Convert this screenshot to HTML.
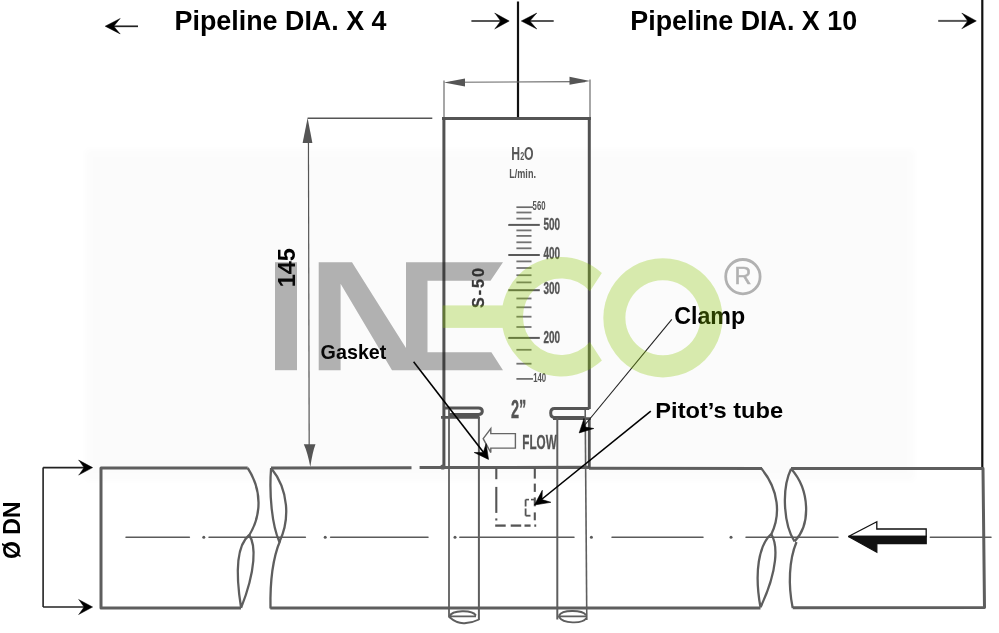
<!DOCTYPE html>
<html><head><meta charset="utf-8"><style>
html,body{margin:0;padding:0;background:#fff;width:999px;height:633px;overflow:hidden}
svg{display:block;will-change:transform}
text{font-family:"Liberation Sans",sans-serif}
</style></head><body>
<svg width="999" height="633" viewBox="0 0 999 633">
<rect width="999" height="633" fill="#fff"/>
<defs><filter id="fb" x="-10%" y="-10%" width="120%" height="120%"><feGaussianBlur stdDeviation="3"/></filter></defs><rect x="85" y="149" width="830" height="332" fill="#000" opacity="0.012" filter="url(#fb)"/>
<g id="draw">
<line x1="112" y1="26.3" x2="138" y2="26.3" stroke="#222" stroke-width="1.7" />
<path d="M105.2,26.2 L120.2,18.5 L119.3,19.4 L113.7,26.2 L119.3,33.0 L120.2,33.9 Z" fill="#000" stroke="#000" stroke-width="0.5" stroke-linejoin="round"/>
<line x1="471.4" y1="21" x2="501" y2="21" stroke="#555" stroke-width="2" />
<path d="M509.2,21 L494.7,13.1 L495.59999999999997,14.0 L500.7,21 L495.59999999999997,28.0 L494.7,28.9 Z" fill="#000" stroke="#000" stroke-width="0.5" stroke-linejoin="round"/>
<line x1="529" y1="21" x2="553.7" y2="21" stroke="#555" stroke-width="2" />
<path d="M521.3,21 L536.8,13.1 L535.9,14.0 L529.8,21 L535.9,28.0 L536.8,28.9 Z" fill="#000" stroke="#000" stroke-width="0.5" stroke-linejoin="round"/>
<line x1="938.2" y1="20.9" x2="968" y2="20.9" stroke="#555" stroke-width="2" />
<path d="M976.3,20.9 L961.8,13.099999999999998 L962.6999999999999,13.999999999999998 L967.8,20.9 L962.6999999999999,27.8 L961.8,28.7 Z" fill="#000" stroke="#000" stroke-width="0.5" stroke-linejoin="round"/>
<line x1="518" y1="1.5" x2="518" y2="118" stroke="#111" stroke-width="2.2" />
<line x1="982.3" y1="0" x2="982.3" y2="468" stroke="#111" stroke-width="2.2" />
<text x="174.5" y="29.8" font-size="27.5" font-weight="bold" textLength="212" lengthAdjust="spacingAndGlyphs">Pipeline DIA. X 4</text>
<text x="630.3" y="30" font-size="27.5" font-weight="bold" textLength="226.8" lengthAdjust="spacingAndGlyphs">Pipeline DIA. X 10</text>
<line x1="444" y1="80.5" x2="444" y2="118" stroke="#777" stroke-width="1.3" />
<line x1="590" y1="79.5" x2="590" y2="118" stroke="#777" stroke-width="1.3" />
<line x1="450" y1="82.2" x2="585" y2="81.6" stroke="#666" stroke-width="1.1" />
<path d="M444,82.4 L465,78.6 L465,86.6 Z" fill="#555"/>
<path d="M590,81 L569.5,76.8 L569.5,84.8 Z" fill="#555"/>
<line x1="442" y1="118.6" x2="591" y2="118.6" stroke="#555" stroke-width="3" />
<line x1="443.9" y1="117.5" x2="443.9" y2="467.2" stroke="#525252" stroke-width="3" />
<line x1="589.3" y1="117.5" x2="589.3" y2="409" stroke="#525252" stroke-width="3" />
<line x1="308.4" y1="125" x2="309.2" y2="455" stroke="#555" stroke-width="1.2" />
<line x1="307.6" y1="118.2" x2="432.3" y2="118.2" stroke="#555" stroke-width="1.6" />
<path d="M307.6,118 L312.4,143 L302.6,143 Z" fill="#555"/>
<path d="M310.3,467 Q307.5,452 303.8,444.2 L315.5,444.2 Q312.5,452 310.3,467 Z" fill="#555"/>
<text transform="translate(294.5,287.3) rotate(-90)" font-size="23.5" font-weight="bold" fill="#000">145</text>
<line x1="43.1" y1="467.6" x2="43.1" y2="607" stroke="#222" stroke-width="1.6" />
<line x1="43.1" y1="467.6" x2="84" y2="467.6" stroke="#222" stroke-width="1.6" />
<line x1="43.1" y1="607" x2="84" y2="607" stroke="#222" stroke-width="1.6" />
<path d="M92.6,467.6 L78.6,460.1 L79.5,461.0 L84.1,467.6 L79.5,474.20000000000005 L78.6,475.1 Z" fill="#000" stroke="#000" stroke-width="0.5" stroke-linejoin="round"/>
<path d="M92.6,607 L78.6,599.5 L79.5,600.4 L84.1,607 L79.5,613.6 L78.6,614.5 Z" fill="#000" stroke="#000" stroke-width="0.5" stroke-linejoin="round"/>
<text transform="translate(19.9,559) rotate(-90)" font-size="23" font-weight="bold" fill="#000">Ø DN</text>
<path d="M241,608.1 L101,608.1 L101,468.0 L247.7,468.0" fill="none" stroke="#5e5e5e" stroke-width="3" stroke-linejoin="round"/>
<path d="M247.7,468.0 C262,490 262,515 248.5,536.5" fill="none" stroke="#5e5e5e" stroke-width="2.3"/>
<path d="M249.2,535 C256,545 256,570 241.1,607.9 M249.2,535 C237,545 235,570 241.1,607.9" fill="none" stroke="#5e5e5e" stroke-width="2.3"/>
<path d="M271.1,468.0 C269,495 272,525 279.4,542 M271.1,468.0 C289,490 290,520 279.4,542" fill="none" stroke="#5e5e5e" stroke-width="2.3"/>
<path d="M280.1,540.7 C272,560 270,585 270.5,608.6" fill="none" stroke="#5e5e5e" stroke-width="2.3"/>
<path d="M271,468.1 L411.5,467.8 M419.6,467.6 L589,467.2 M589,468.2 L762,468.6" fill="none" stroke="#5e5e5e" stroke-width="3"/>
<circle cx="442.8" cy="467" r="2.6" fill="#5e5e5e"/>
<path d="M270.3,608.1 L760.5,608.1" fill="none" stroke="#5e5e5e" stroke-width="3"/>
<path d="M761.4,468.6 C779,490 781,515 771,535" fill="none" stroke="#5e5e5e" stroke-width="2.3"/>
<path d="M771.2,534 C778,545 778,570 760.5,607.3 M771.2,534 C759,545 754,572 760.5,607.3" fill="none" stroke="#5e5e5e" stroke-width="2.3"/>
<path d="M791.1,468.8 C781,490 784,525 794.5,541.5 M791.1,468.8 C810,490 811,525 794.5,541.5" fill="none" stroke="#5e5e5e" stroke-width="2.3"/>
<path d="M796.5,542 C789,560 788,585 792.7,607.9" fill="none" stroke="#5e5e5e" stroke-width="2.3"/>
<path d="M791,468.4 L983,468.4 L984.5,607.6 L792.7,607.8" fill="none" stroke="#5e5e5e" stroke-width="3" stroke-linejoin="round"/>
<line x1="126" y1="537.2" x2="189.4" y2="537.2" stroke="#5a5a5a" stroke-width="1.5" stroke-linecap="round"/>
<line x1="209" y1="537.2" x2="305.4" y2="537.2" stroke="#5a5a5a" stroke-width="1.5" stroke-linecap="round"/>
<line x1="330.6" y1="537.2" x2="428" y2="537.2" stroke="#5a5a5a" stroke-width="1.5" stroke-linecap="round"/>
<line x1="459.8" y1="537.2" x2="574" y2="537.2" stroke="#5a5a5a" stroke-width="1.5" stroke-linecap="round"/>
<line x1="612" y1="537.2" x2="703" y2="537.2" stroke="#5a5a5a" stroke-width="1.5" stroke-linecap="round"/>
<line x1="746" y1="537.2" x2="838" y2="537.2" stroke="#5a5a5a" stroke-width="1.5" stroke-linecap="round"/>
<line x1="930.3" y1="537.2" x2="991" y2="537.2" stroke="#5a5a5a" stroke-width="1.5" stroke-linecap="round"/>
<circle cx="203.8" cy="537.2" r="1.5" fill="#5a5a5a"/>
<circle cx="325.2" cy="537.2" r="1.5" fill="#5a5a5a"/>
<circle cx="455" cy="537.2" r="1.5" fill="#5a5a5a"/>
<circle cx="591.4" cy="537.2" r="1.5" fill="#5a5a5a"/>
<circle cx="731" cy="537.2" r="1.5" fill="#5a5a5a"/>
<path d="M848.4,536.5 L876.8,521.7 L876.8,529 L926.2,529 L926.2,536.5 Z" fill="#fff" stroke="#111" stroke-width="1.3" stroke-linejoin="miter"/>
<path d="M848.4,536.5 L876.8,552.2 L876.8,543.7 L926.2,543.7 L926.2,536.5 Z" fill="#111" stroke="#111" stroke-width="1.3"/>
<path d="M443.8,408 L478.5,408 Q482.3,408 482.3,411.3 Q482.3,414.6 478.5,414.6 L449,414.6" fill="none" stroke="#555" stroke-width="3"/>
<line x1="441" y1="417.3" x2="479.6" y2="417.3" stroke="#555" stroke-width="2.8" />
<line x1="449" y1="407" x2="449" y2="617.5" stroke="#5e5e5e" stroke-width="1.8" />
<line x1="478.9" y1="417" x2="478.9" y2="620" stroke="#5e5e5e" stroke-width="2" />
<path d="M589.3,408.6 L554.5,408.6 Q550.7,408.6 550.7,413 Q550.7,417.4 554.5,417.4 L584.8,417.4" fill="none" stroke="#555" stroke-width="3"/>
<line x1="553" y1="418.6" x2="591" y2="418.6" stroke="#555" stroke-width="2.6" />
<line x1="557.3" y1="418" x2="557.3" y2="619.5" stroke="#5e5e5e" stroke-width="2" />
<line x1="585.2" y1="410" x2="586.8" y2="620" stroke="#5e5e5e" stroke-width="1.6" />
<line x1="589.3" y1="418" x2="589.3" y2="468" stroke="#525252" stroke-width="2.8" />
<path d="M449.5,616.4 C452,610 472,609.5 476,615.5 M449.5,616.4 L476,616.4 M449.2,617 C455,622 460,624 466,623 C472,622.5 476,621 479,619.5" fill="none" stroke="#5e5e5e" stroke-width="1.9"/>
<path d="M559,615.5 C562,609.5 582,609.5 586,615 M558,616.4 L586,616.4 M559,617 C563,623.5 582,624.5 586.5,618" fill="none" stroke="#5e5e5e" stroke-width="1.9"/>
<line x1="496.3" y1="468" x2="496.3" y2="479.2" stroke="#555" stroke-width="2.1" />
<line x1="496.3" y1="486.9" x2="496.3" y2="512.9" stroke="#555" stroke-width="2.1" />
<line x1="496.3" y1="518.4" x2="496.3" y2="520.5" stroke="#555" stroke-width="2.1" />
<line x1="534.8" y1="468" x2="534.8" y2="478.6" stroke="#555" stroke-width="2.1" />
<line x1="534.8" y1="483.6" x2="534.8" y2="491.9" stroke="#555" stroke-width="2.1" />
<line x1="534.8" y1="497.4" x2="534.8" y2="506.3" stroke="#555" stroke-width="2.1" />
<line x1="534.8" y1="512.4" x2="534.8" y2="520.3" stroke="#555" stroke-width="2.1" />
<line x1="525.6" y1="499.6" x2="525.6" y2="506.5" stroke="#555" stroke-width="1.8" />
<line x1="525.6" y1="508.5" x2="525.6" y2="515.7" stroke="#555" stroke-width="1.8" />
<line x1="525.6" y1="499.6" x2="529" y2="499.6" stroke="#555" stroke-width="1.6" />
<line x1="531" y1="499.6" x2="534.8" y2="499.6" stroke="#555" stroke-width="1.6" />
<line x1="525.6" y1="515.7" x2="530.5" y2="515.7" stroke="#555" stroke-width="1.8" />
<line x1="495.2" y1="525.6" x2="505.7" y2="525.6" stroke="#555" stroke-width="2.3" />
<line x1="510.7" y1="525.6" x2="521.2" y2="525.6" stroke="#555" stroke-width="2.3" />
<line x1="524.5" y1="525.6" x2="530.6" y2="525.6" stroke="#555" stroke-width="2.3" />
<line x1="534.3" y1="525.6" x2="536.2" y2="525.6" stroke="#555" stroke-width="2.3" />
<text x="511.3" y="160.5" font-size="18" font-weight="bold" fill="#555" transform="translate(511.3,0) scale(0.68,1) translate(-511.3,0)" >H<tspan font-size="10.5">2</tspan>O</text>
<text x="509.2" y="178.3" font-size="13" font-weight="bold" fill="#555" transform="translate(509.2,0) scale(0.7,1) translate(-509.2,0)" >L/min.</text>
<line x1="516.4" y1="207.2" x2="533" y2="207.2" stroke="#6a6a6a" stroke-width="1.7" />
<line x1="516.4" y1="212.5" x2="531.5" y2="212.5" stroke="#737373" stroke-width="1.8" />
<line x1="516.4" y1="218.6" x2="531.5" y2="218.6" stroke="#737373" stroke-width="1.8" />
<line x1="508.3" y1="224.9" x2="539.8" y2="224.9" stroke="#5a5a5a" stroke-width="2" />
<line x1="516.4" y1="230.4" x2="531.5" y2="230.4" stroke="#737373" stroke-width="1.8" />
<line x1="516.4" y1="235.9" x2="531.5" y2="235.9" stroke="#737373" stroke-width="1.8" />
<line x1="516.4" y1="242.3" x2="531.5" y2="242.3" stroke="#737373" stroke-width="1.8" />
<line x1="516.4" y1="248.3" x2="531.5" y2="248.3" stroke="#737373" stroke-width="1.8" />
<line x1="508.3" y1="255" x2="539.8" y2="255" stroke="#5a5a5a" stroke-width="2" />
<line x1="516.4" y1="261.4" x2="531.5" y2="261.4" stroke="#737373" stroke-width="1.8" />
<line x1="516.4" y1="268" x2="531.5" y2="268" stroke="#737373" stroke-width="1.8" />
<line x1="516.4" y1="275.2" x2="531.5" y2="275.2" stroke="#737373" stroke-width="1.8" />
<line x1="516.4" y1="282.4" x2="531.5" y2="282.4" stroke="#737373" stroke-width="1.8" />
<line x1="508.3" y1="290.2" x2="539.8" y2="290.2" stroke="#5a5a5a" stroke-width="2" />
<line x1="516.4" y1="298.5" x2="531.5" y2="298.5" stroke="#737373" stroke-width="1.8" />
<line x1="516.4" y1="307.3" x2="531.5" y2="307.3" stroke="#737373" stroke-width="1.8" />
<line x1="516.4" y1="316.7" x2="531.5" y2="316.7" stroke="#737373" stroke-width="1.8" />
<line x1="516.4" y1="327" x2="531.5" y2="327" stroke="#737373" stroke-width="1.8" />
<line x1="508.3" y1="337.9" x2="539.8" y2="337.9" stroke="#5a5a5a" stroke-width="2" />
<line x1="516.4" y1="349.8" x2="531.5" y2="349.8" stroke="#737373" stroke-width="1.8" />
<line x1="516.4" y1="363.7" x2="531.5" y2="363.7" stroke="#737373" stroke-width="1.8" />
<line x1="516.4" y1="378.9" x2="533" y2="378.9" stroke="#6a6a6a" stroke-width="1.7" />
<text x="532.6" y="210.2" font-size="12.5" font-weight="bold" fill="#555" transform="translate(532.6,0) scale(0.62,1) translate(-532.6,0)" >560</text>
<text x="543.5" y="229.8" font-size="16" font-weight="bold" fill="#555" transform="translate(543.5,0) scale(0.62,1) translate(-543.5,0)" stroke="#555" stroke-width="0.35">500</text>
<text x="543.5" y="259.1" font-size="16" font-weight="bold" fill="#555" transform="translate(543.5,0) scale(0.62,1) translate(-543.5,0)" stroke="#555" stroke-width="0.35">400</text>
<text x="543.5" y="294.3" font-size="16" font-weight="bold" fill="#555" transform="translate(543.5,0) scale(0.62,1) translate(-543.5,0)" stroke="#555" stroke-width="0.35">300</text>
<text x="543.5" y="343.5" font-size="16" font-weight="bold" fill="#555" transform="translate(543.5,0) scale(0.62,1) translate(-543.5,0)" stroke="#555" stroke-width="0.35">200</text>
<text x="533.2" y="382.5" font-size="12.5" font-weight="bold" fill="#555" transform="translate(533.2,0) scale(0.62,1) translate(-533.2,0)" >140</text>
<text transform="translate(483.6,308) rotate(-90)" font-size="16" font-weight="bold" fill="#3a3a3a" stroke="#3a3a3a" stroke-width="0.3" letter-spacing="2">S-50</text>
<text x="511" y="418" font-size="25" font-weight="bold" fill="#555" transform="translate(511,0) scale(0.58,1) translate(-511,0)" stroke="#555" stroke-width="0.4">2”</text>
<text x="522.3" y="448.6" font-size="20" font-weight="bold" fill="#555" transform="translate(522.3,0) scale(0.585,1) translate(-522.3,0)" stroke="#555" stroke-width="0.3">FLOW</text>
<path d="M483.2,438.7 L490.8,428.5 L490.8,433.6 L515.4,433.6 L515.4,448.1 L490.8,448.1 L490.8,452.6 Z" fill="none" stroke="#666" stroke-width="1.4" stroke-linejoin="miter"/>
<text x="320.6" y="359.2" font-size="19.8" font-weight="bold" fill="#000" textLength="65.8" lengthAdjust="spacingAndGlyphs">Gasket</text>
<text x="674.2" y="323.6" font-size="23.5" font-weight="bold" fill="#000" textLength="71" lengthAdjust="spacingAndGlyphs">Clamp</text>
<text x="655.3" y="418.4" font-size="22.8" font-weight="bold" fill="#000" textLength="127.8" lengthAdjust="spacingAndGlyphs">Pitot’s tube</text>
<line x1="413.6" y1="361.7" x2="484" y2="453" stroke="#000" stroke-width="1.6" />
<path d="M488.5,459.4 L474.2,452.5 L483.3,452.4 L486.1,443.7 Z" fill="#000" stroke="#000" stroke-width="0.6" stroke-linejoin="round"/>
<line x1="671.8" y1="319.4" x2="584" y2="426" stroke="#222" stroke-width="1.1" />
<path d="M579.2,432.9 L584.0,418.5 L585.2,427.1 L593.8,428.5 Z" fill="#000" stroke="#000" stroke-width="0.6" stroke-linejoin="round"/>
<line x1="650.8" y1="411.2" x2="539" y2="501.5" stroke="#000" stroke-width="1.6" />
<path d="M534.4,505.0 L542.3,490.3 L542.0,499.6 L550.9,502.3 Z" fill="#000" stroke="#000" stroke-width="0.6" stroke-linejoin="round"/>
</g>
<g id="wm">
<g opacity="0.33">
<rect x="275" y="262.2" width="22" height="108" fill="#1e1e1e"/>
<path d="M318.7,262.2 L352,262.2 L406,348 L406,262.2 L503,262.2 L490.5,280.8 L427.5,280.8 L427.5,352.3 L491.4,352.3 L503,370.2 L392,370.2 L340.6,283.8 L340.6,370.2 L318.7,370.2 Z" fill="#1e1e1e"/>
<circle cx="742.9" cy="276.7" r="17.2" fill="none" stroke="#1e1e1e" stroke-width="2.8"/>
<text x="734.6" y="284.4" font-size="23.5" fill="#1e1e1e" stroke="#1e1e1e" stroke-width="0.6">R</text>
</g>
<g opacity="0.306">
<rect x="442.6" y="305.4" width="62" height="22.5" fill="rgb(137,199,0)"/>
<path d="M601.9,273.0 A59.7,59.7 0 1 0 601.9,360.4 L589.9,342.1 A38.3,38.3 0 1 1 589.9,291.3 Z" fill="rgb(137,199,0)"/>
<path d="M662.9,258.2 A59.6,59.6 0 1 0 662.91,258.2 Z M662.9,280.3 A37.5,37.5 0 1 1 662.89,280.3 Z" fill="rgb(137,199,0)" fill-rule="evenodd"/>
</g>
</g>
</svg>
</body></html>
